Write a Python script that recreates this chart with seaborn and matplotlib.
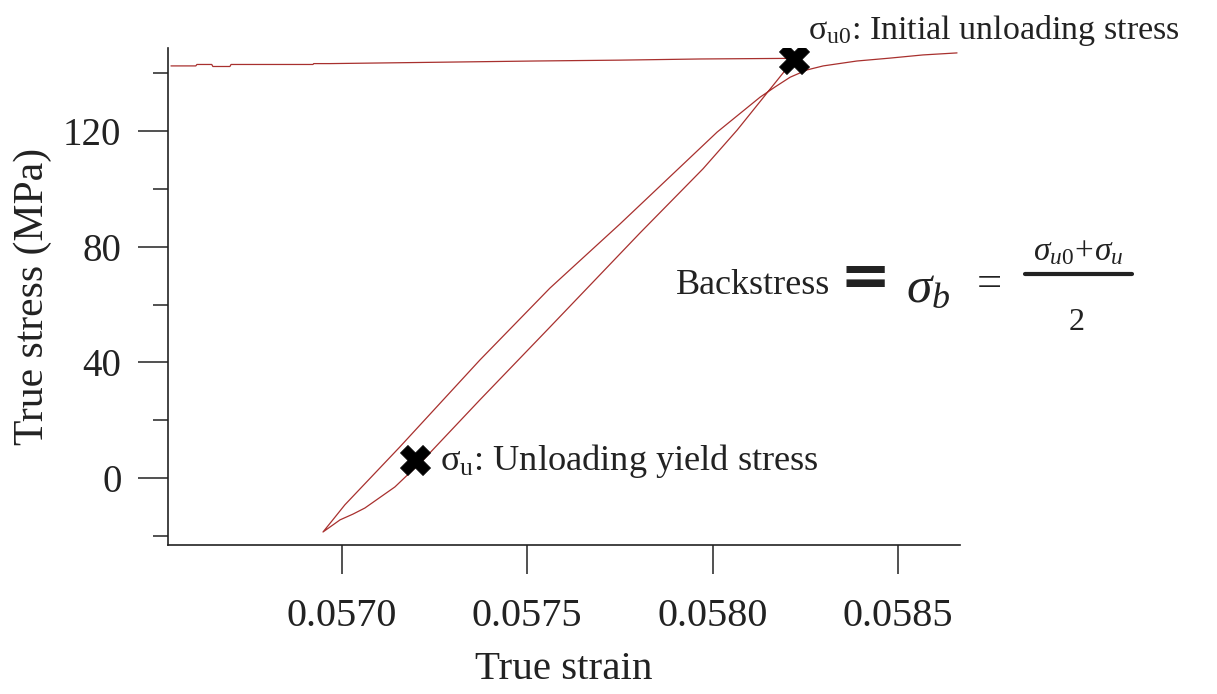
import numpy as np
import pandas as pd
import matplotlib
matplotlib.use("Agg")
import matplotlib.pyplot as plt
from matplotlib.lines import Line2D
import seaborn as sns

# ---- data ----
# loading branch (nearly flat), ending at the initial unloading point
load_strain = [0.056539, 0.056606, 0.056609, 0.056649, 0.056652, 0.056698, 0.056701,
               0.056922, 0.056924, 0.056968, 0.057216, 0.057521, 0.057750, 0.057966,
               0.058195, 0.058209]
load_stress = [142.6, 142.6, 143.1, 143.1, 142.4, 142.4, 143.1,
               143.1, 143.4, 143.4, 143.8, 144.3, 144.6, 145.0,
               145.2, 145.0]
# unloading branch (down to the reversal point)
unload_strain = [0.058192, 0.058066, 0.057974, 0.057804, 0.057561, 0.057372,
                 0.057219, 0.057143, 0.057062, 0.057030, 0.056995, 0.056949]
unload_stress = [140.5, 120.4, 107.0, 84.8, 52.2, 27.0,
                 6.2, -3.1, -10.4, -12.5, -14.5, -18.7]
# reloading branch
reload_strain = [0.056973, 0.057008, 0.057156, 0.057372, 0.057561, 0.057750,
                 0.058012, 0.058128, 0.058168, 0.058209, 0.058254, 0.058298,
                 0.058389, 0.058478, 0.058567, 0.058659]
reload_stress = [-14.9, -9.3, 10.7, 40.8, 65.7, 87.9,
                 119.7, 131.8, 135.3, 138.7, 141.2, 142.6,
                 144.3, 145.3, 146.4, 147.1]

# marked points: sigma_u0 and sigma_u
mark_names = ["sigma_u0", "sigma_u"]
mark_strain = [0.058219, 0.057197]
mark_stress = [145.0, 6.2]

x_ticks = [0.0570, 0.0575, 0.0580, 0.0585]
x_tick_labels = ["0.0570", "0.0575", "0.0580", "0.0585"]
y_ticks = [0, 40, 80, 120]
y_tick_labels = ["0", "40", "80", "120"]
y_minor_ticks = [-20, 20, 60, 100, 140]

# ---- build frame ----
path_strain = load_strain + unload_strain + reload_strain
path_stress = load_stress + unload_stress + reload_stress
df = pd.DataFrame({"strain": path_strain, "stress": path_stress,
                   "order": np.arange(len(path_strain))})
marks = pd.DataFrame({"name": mark_names, "strain": mark_strain, "stress": mark_stress})

sns.set_theme(style="ticks")
plt.rcParams["font.family"] = ["Liberation Serif", "DejaVu Serif"]
plt.rcParams["mathtext.fontset"] = "custom"
plt.rcParams["mathtext.rm"] = "Liberation Serif"
plt.rcParams["mathtext.it"] = "Liberation Serif:italic"

fig = plt.figure(figsize=(12.17, 6.94), dpi=100)
fig.patch.set_facecolor("white")
ax = fig.add_axes([168 / 1217, 1 - 545 / 694, (960 - 168) / 1217, (545 - 48) / 694])
ax.set_facecolor("white")

line_color = "#a8302e"
sns.lineplot(data=df, x="strain", y="stress", sort=False, estimator=None,
             color=line_color, linewidth=0.9, ax=ax)
sns.scatterplot(data=marks, x="strain", y="stress", marker="X", s=470,
                color="black", edgecolor="black", linewidth=0.5, zorder=5, ax=ax)

ax.set_xlim(0.056531, 0.058667)
ax.set_ylim(-23.2, 148.8)

ax.set_xticks(x_ticks)
ax.set_xticklabels(x_tick_labels)
ax.set_yticks(y_ticks)
ax.set_yticklabels(y_tick_labels)
ax.set_yticks(y_minor_ticks, minor=True)

for side in ["top", "right"]:
    ax.spines[side].set_visible(False)
for side in ["left", "bottom"]:
    ax.spines[side].set_color("#222222")
    ax.spines[side].set_linewidth(1.2)

ax.tick_params(axis="x", which="major", direction="out", length=21, width=1.1,
               pad=17, labelsize=29, colors="#222222")
ax.tick_params(axis="y", which="major", direction="out", length=21.5, width=1.1,
               pad=12, labelsize=28, colors="#222222")
ax.tick_params(axis="y", which="minor", direction="out", length=10.8, width=1.1,
               colors="#222222")

ax.set_xlabel("True strain", fontsize=29.5, color="#222222", labelpad=12)
ax.set_ylabel("True stress (MPa)", fontsize=30, color="#222222", labelpad=8)

dark = "#222222"
fig.text(808 / 1217, 1 - 30 / 694, r"$\mathrm{\sigma_{u0}}$: Initial unloading stress",
         ha="left", va="center", fontsize=24.5, color=dark)
fig.text(440 / 1217, 1 - 461 / 694, r"$\mathrm{\sigma_{u}}$: Unloading yield stress",
         ha="left", va="center", fontsize=26.2, color=dark)

# Backstress formula
fig.text(676 / 1217, 1 - 294 / 694, "Backstress", ha="left", va="baseline",
         fontsize=26, color=dark)
fig.text(865 / 1217, 1 - 279 / 694, "=", ha="center", va="center",
         fontsize=44, fontweight="bold", family="DejaVu Sans", color=dark)
fig.text(906 / 1217, 1 - 302 / 694, r"$\sigma_b$", ha="left", va="baseline",
         fontsize=37, color=dark)
fig.text(989 / 1217, 1 - 296 / 694, "=", ha="center", va="baseline",
         fontsize=32, color=dark)
fig.text(1078 / 1217, 1 - 260 / 694, r"$\sigma_{u0}\!+\!\sigma_u$", ha="center",
         va="baseline", fontsize=24, color=dark)
fig.add_artist(Line2D([1025 / 1217, 1132 / 1217], [1 - 274 / 694, 1 - 274 / 694],
                      transform=fig.transFigure, color=dark, linewidth=3))
fig.text(1077 / 1217, 1 - 330 / 694, "2", ha="center", va="baseline",
         fontsize=23, color=dark)

fig.savefig("out.png", dpi=100, facecolor="white")
